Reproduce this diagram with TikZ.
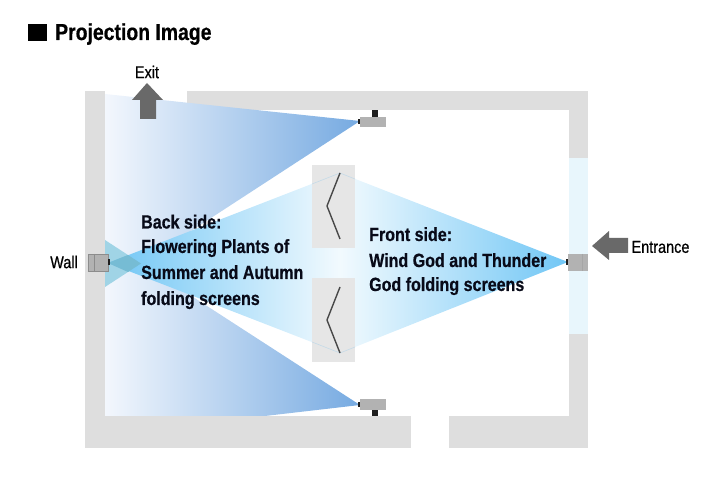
\documentclass[tikz,border=0pt]{standalone}
\usepackage{fontspec}
\setmainfont[FakeStretch=0.84,FakeBold=0.6]{Liberation Sans}
\definecolor{wallgrey}{RGB}{222,222,222}
\definecolor{screengrey}{RGB}{230,230,230}
\definecolor{glassblue}{RGB}{232,246,252}
\definecolor{arrowgrey}{RGB}{105,105,105}
\definecolor{bodygrey}{RGB}{178,178,178}
\definecolor{beamdeep}{RGB}{118,170,225}
\definecolor{beampale}{RGB}{243,247,253}
\definecolor{rhombdeep}{RGB}{112,198,245}
\definecolor{rhombpale}{RGB}{242,250,254}
\definecolor{wedge}{RGB}{160,212,230}
\definecolor{wedgedeep}{RGB}{118,188,212}
\definecolor{edgeblue}{RGB}{196,218,232}
\definecolor{foldgrey}{RGB}{72,72,72}
\definecolor{textnavy}{RGB}{8,10,24}
\tikzset{
  wallbox/.style={fill=wallgrey,draw=none},
  beamtop/.style={left color=beampale,right color=beamdeep,draw=none},
  rhombleft/.style={left color=rhombdeep,right color=rhombpale,draw=none},
  rhombright/.style={left color=rhombpale,right color=rhombdeep,draw=none},
  screenbox/.style={fill=screengrey,draw=none},
  foldline/.style={draw=foldgrey,line width=1.4pt,line join=miter},
  edgeline/.style={draw=edgeblue,line width=0.6pt},
  bodybox/.style={fill=bodygrey,draw=none},
  blackbox/.style={fill=black!88,draw=none},
  bigarrow/.style={fill=arrowgrey,draw=none},
  bigtext/.style={font=\bfseries\fontsize{19.1}{19.1}\selectfont,text=textnavy,inner sep=0pt,anchor=base west},
  smalltext/.style={font=\fontsize{17.2}{17.2}\selectfont,text=black,inner sep=0pt}
}
\begin{document}
\begin{tikzpicture}[x=1pt,y=-1pt]
\useasboundingbox (0,0) rectangle (710,478);
% walls
\fill[wallbox] (85,91) rectangle (105,448);
\fill[wallbox] (85,416) rectangle (411,448);
\fill[wallbox] (187,91) rectangle (588,110);
\fill[wallbox] (569,91) rectangle (588,158);
\fill[wallbox] (569,334) rectangle (588,448);
\fill[wallbox] (449,416) rectangle (588,448);
\fill[glassblue] (569,158) rectangle (588,334);
% side beams
\shade[beamtop] (360,121) -- (105,94) -- (105,287) -- cycle;
\shade[beamtop] (360,405) -- (105,240) -- (105,416) -- (265,416) -- cycle;
\fill[wedge] (105,240) -- (141,263.5) -- (105,287) -- cycle;
% central beam
\shade[rhombleft] (108,263) -- (340,173) -- (340,353) -- cycle;
\shade[rhombright] (340,173) -- (568,262) -- (340,353) -- cycle;
\fill[wedgedeep] (108,263) -- (128,255) -- (141,263.5) -- (128,272) -- cycle;
% folding screens
\fill[screenbox] (312,165) rectangle (355,248);
\fill[screenbox] (312,278) rectangle (355,362);
\draw[edgeline] (312,184) -- (340,173) -- (355,179);
\draw[edgeline] (312,342) -- (340,353) -- (355,347);
\draw[foldline] (340,173) -- (327,206) -- (340,239);
\draw[foldline] (340,287) -- (327,320) -- (340,353);
% projectors
\fill[bodybox] (360,117) rectangle (386,127);
\fill[blackbox] (358,119) rectangle (360,124);
\fill[blackbox] (372,110) rectangle (378,117);
\fill[bodybox] (360,399) rectangle (386,410);
\fill[blackbox] (358,402) rectangle (360,407);
\fill[blackbox] (372,410) rectangle (378,416);
\fill[bodybox] (88,254) rectangle (108,271);
\draw[black!45,line width=0.4pt] (88,254) rectangle (108,271) (94,254) -- (94,271);
\fill[blackbox] (108,259) rectangle (110,265);
\fill[bodybox] (568,254) rectangle (588,271);
\draw[black!35,line width=0.4pt] (582,254) -- (582,271);
\fill[blackbox] (566,259) rectangle (568,265);
% arrows
\fill[bigarrow] (147,83) -- (163,100) -- (156,100) -- (156,119) -- (140,119) -- (140,100) -- (132,100) -- cycle;
\fill[bigarrow] (592,246) -- (609,231) -- (609,238) -- (628,238) -- (628,253) -- (609,253) -- (609,260) -- cycle;
% title
\fill[black] (28,24) rectangle (47,41);
\node[font=\bfseries\fontsize{23.1}{23.1}\selectfont,inner sep=0pt,anchor=base west] (title) at (55,40) {Projection Image};
% labels
\node[smalltext] (exitlabel) at (147,72) {Exit};
\node[smalltext] (walllabel) at (64,262) {Wall};
\node[smalltext] (entrancelabel) at (660.5,247) {Entrance};
\node[bigtext] (b1) at (141,228.5) {Back side:};
\node[bigtext] (b2) at (141,253) {Flowering Plants of};
\node[bigtext] (b3) at (141,279) {Summer and Autumn};
\node[bigtext] (b4) at (141,305) {folding screens};
\node[bigtext] (f1) at (369,241) {Front side:};
\node[bigtext] (f2) at (369,267) {Wind God and Thunder};
\node[bigtext] (f3) at (369,291) {God folding screens};
\end{tikzpicture}
\end{document}
